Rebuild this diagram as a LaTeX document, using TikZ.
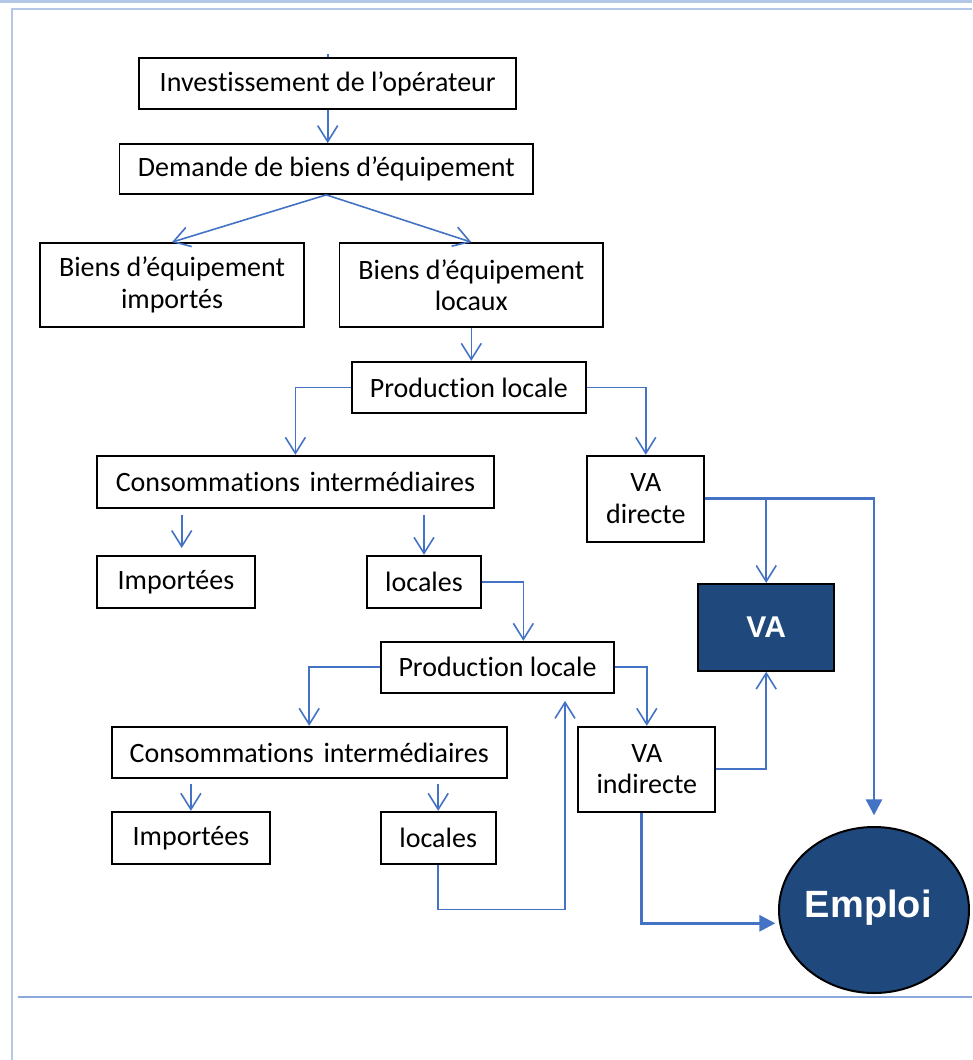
\documentclass[tikz,border=0pt]{standalone}
\usepackage{fontspec}
\setmainfont{Carlito}[Ligatures=NoCommon]
\newfontfamily\headsans{Liberation Sans}
\usetikzlibrary{arrows.meta,shapes.geometric}

\definecolor{linkblue}{RGB}{68,114,196}
\definecolor{deepnavy}{RGB}{31,73,125}
\definecolor{framelight}{RGB}{180,199,231}
\definecolor{framerule}{RGB}{142,169,219}

\tikzset{
  box/.style={draw=black, line width=1.3pt, fill=white, inner sep=0pt,
    align=center, font=\fontsize{21}{23.5}\selectfont},
  bw/.style={minimum width={#1*0.75pt}},
  bh/.style={minimum height={#1*0.75pt}},
  link/.style={draw=linkblue, line width=1.2pt},
  arr/.style={link, -{Straight Barb[length=12pt,width=15pt]}},
  heavy/.style={draw=linkblue, line width=2.2pt, -{Triangle[length=12pt,width=12pt]}},
  darkbox/.style={draw=black, line width=1.5pt, fill=deepnavy, text=white,
    inner sep=0pt, font=\headsans\bfseries\fontsize{22.5}{27}\selectfont},
}

\begin{document}
\begin{tikzpicture}[x=0.75pt,y=-0.75pt]
\useasboundingbox (0,0) rectangle (972,1060);

% page frame
\fill[framelight] (0,0) rectangle (972,3.3);
\draw[framelight, line width=1.6pt] (972,8.8) -- (11.8,8.8) -- (11.8,1060);
\draw[framerule, line width=1pt] (18,997) -- (972,997);

% boxes
\node[box, bw=376.7, bh=51]   (inv)   at (327.7,83.8)  {Investissement de l’opérateur};
\node[box, bw=413.5, bh=50]   (dem)   at (326.3,169)   {Demande de biens d’équipement};
\node[box, bw=264,   bh=84]   (bimp)  at (172,285)     {Biens d’équipement\\importés};
\node[box, bw=263.4, bh=84]   (bloc)  at (471.3,285)   {Biens d’équipement\\locaux};
\node[box, bw=234.3, bh=51.6] (prod1) at (468.9,387.5) {Production locale};
\node[box, bw=397.3, bh=52.6] (cons1) at (295.4,482)   {Consommations\hspace{0.35em}intermédiaires};
\node[box, bw=117,   bh=86]   (vad)   at (645.8,498.7) {VA\\directe};
\node[box, bw=158.3, bh=52.6] (imp1)  at (175.9,582)   {Importées};
\node[box, bw=113.4, bh=52.6] (loc1)  at (424,582)     {locales};
\node[darkbox, minimum width=101.8pt, minimum height=65pt] (va) at (766.2,627.3) {VA};
\node[box, bw=233.6, bh=51]   (prod2) at (497.5,667.2) {Production locale};
\node[box, bw=395,   bh=51.6] (cons2) at (309.2,752.5) {Consommations\hspace{0.35em}intermédiaires};
\node[box, bw=137,   bh=85]   (vai)   at (646.8,769.2) {VA\\indirecte};
\node[box, bw=158.3, bh=52.6] (imp2)  at (190.9,838)   {Importées};
\node[box, bw=115,   bh=52.6] (loc2)  at (438.2,838)   {locales};
\node[ellipse, draw=black, line width=1.5pt, fill=deepnavy, inner sep=0pt,
      minimum width=142.5pt, minimum height=124.5pt] (emp) at (874,910) {};
\node[anchor=base, inner sep=0pt, text=white,
      font=\headsans\bfseries\fontsize{28.5}{34}\selectfont] (emptext) at (868.3,917.3) {Emploi};

% connectors
\draw[link] (inv.north) -- ++(0,-3);
\draw[arr] (inv.south) -- (inv.south |- dem.north);
\draw[arr] (dem.south) -- (bimp.north);
\draw[arr] (dem.south) -- (bloc.north);
\draw[arr] (bloc.south) -- (bloc.south |- prod1.north);
\draw[arr] (prod1.west) -| (cons1.north);
\draw[arr] (prod1.east) -| (vad.north);

\coordinate (t1) at (181.7,548);
\draw[arr, shorten <=4.5pt] (cons1.south -| t1) -- (t1);
\draw[arr, shorten <=4.5pt] (loc1.north |- cons1.south) -- (loc1.north);
\draw[arr] (loc1.east) -| ([xshift=19.4pt]prod2.north);

\draw[arr] (prod2.west) -| (cons2.north);
\draw[arr] (prod2.east) -| (vai.north);
\draw[arr, shorten <=3.5pt] (cons2.south -| imp2.north) -- (imp2.north);
\draw[arr, shorten <=3.5pt] (cons2.south -| loc2.north) -- (loc2.north);

\coordinate (j2) at (565,909.3);
\draw[arr, shorten >=5.5pt] (loc2.south) |- (j2) -- (j2 |- prod2.south);

\draw[heavy, shorten >=8pt] (vad.east) -| (emp.north);
\draw[arr] (vad.east) -| (va.north);
\draw[arr] (vai.east) -| (va.south);

\coordinate (j3) at (641.7,923.3);
\draw[heavy, shorten >=2pt] (vai.south -| j3) |- (emp.west |- j3);
\end{tikzpicture}
\end{document}
